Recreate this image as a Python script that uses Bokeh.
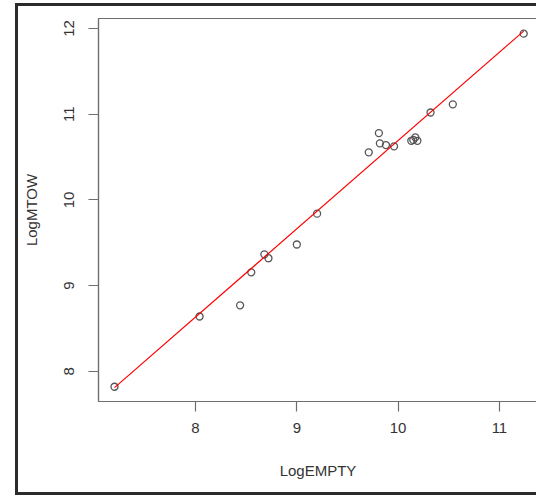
from bokeh.plotting import figure
from bokeh.embed import file_html
from bokeh.resources import INLINE
from bokeh.models import FixedTicker

# data
log_empty = [7.20, 8.04, 8.44, 8.55, 8.68, 8.72, 9.00, 9.20, 9.71, 9.81, 9.82, 9.88, 9.96,
             10.13, 10.15, 10.17, 10.19, 10.32, 10.54, 11.24]
log_mtow = [7.82, 8.64, 8.77, 9.155, 9.365, 9.32, 9.48, 9.84, 10.555, 10.78, 10.66, 10.64, 10.625,
            10.69, 10.70, 10.73, 10.69, 11.02, 11.115, 11.94]
fit_x = [7.20, 11.24]
fit_y = [7.81, 11.97]
x_ticks = [8, 9, 10, 11]
y_ticks = [8, 9, 10, 11, 12]

FONT = "Liberation Sans"
TXT = "#333333"
BOX = "#6e6e6e"

p = figure(width=521, height=492, output_backend="svg", toolbar_location=None,
           x_range=(7.042, 11.376), y_range=(7.648, 12.117),
           min_border_left=80, min_border_right=2, min_border_top=12, min_border_bottom=97,
           x_axis_label="LogEMPTY", y_axis_label="LogMTOW")
p.margin = (3, 0, 0, 15)
p.styles = {"border-top": "3px solid #2b2b2b", "border-left": "3px solid #2b2b2b",
            "border-bottom": "3px solid #2b2b2b"}

p.grid.visible = False
p.outline_line_color = BOX
p.outline_line_width = 1.2
p.background_fill_color = "white"
p.border_fill_color = "white"

p.xaxis.ticker = FixedTicker(ticks=x_ticks)
p.yaxis.ticker = FixedTicker(ticks=y_ticks)
for ax in (p.xaxis[0], p.yaxis[0]):
    ax.axis_line_color = BOX
    ax.axis_line_width = 1.2
    ax.major_tick_line_color = BOX
    ax.major_tick_line_width = 1.2
    ax.major_tick_out = 10
    ax.major_tick_in = 0
    ax.minor_tick_line_color = None
    ax.major_label_text_font = FONT
    ax.major_label_text_font_size = "15px"
    ax.major_label_text_color = TXT
    ax.axis_label_text_font = FONT
    ax.axis_label_text_font_size = "15px"
    ax.axis_label_text_color = TXT
    ax.axis_label_text_font_style = "normal"
    ax.major_label_standoff = 11
p.yaxis.major_label_standoff = 14
p.yaxis.major_label_orientation = "vertical"
p.xaxis.axis_label_standoff = 26
p.yaxis.axis_label_standoff = 22

p.scatter(log_empty, log_mtow, marker="circle", size=7, fill_color=None,
          line_color="#555555", line_width=1.3)
p.line(fit_x, fit_y, line_color="red", line_width=1.2)

open("out.html", "w").write(file_html(p, INLINE))
